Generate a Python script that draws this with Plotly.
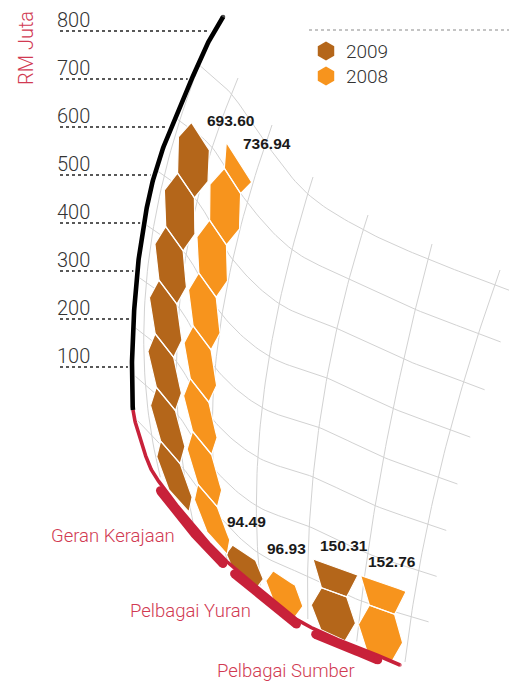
import numpy as np
import plotly.graph_objects as go

# ---------------- data ----------------
categories = ["Geran Kerajaan", "Pelbagai Yuran", "Pelbagai Sumber"]
series_names = ["2009", "2008"]
values_2009 = [693.60, 94.49, 150.31]
values_2008 = [736.94, 96.93, 152.76]
value_labels_2009 = ["693.60", "94.49", "150.31"]
value_labels_2008 = ["736.94", "96.93", "152.76"]
tick_values = [100, 200, 300, 400, 500, 600, 700, 800]
tick_labels = ["100", "200", "300", "400", "500", "600", "700", "800"]
axis_title = "RM Juta"
UNIT = 100.0  # one hexagon cell = RM 100 juta

# ---------------- style / layout geometry ----------------
W, H = 517, 681
OFF = 8  # page body margin: the figure starts 8px in from the window edge
C2009 = "#B4661A"
C2008 = "#F7941D"
RED = "#C8213A"
RED_TXT = "#D13A52"
GRID = "#D2D2D2"
TXT = "#333333"
FONT = "Liberation Sans, Arial, sans-serif"
LIGHT = "Roboto, Liberation Sans, Arial, sans-serif"

# curved value axis / category base line
BOUNDARY = [(223, 17), (213, 33), (200, 60), (187, 90), (173, 122), (160, 157), (150, 192),
            (143, 230), (138, 265), (134, 313), (132, 363), (133, 410), (140, 437),
            (150, 467), (165, 490), (183, 513), (203, 537), (222, 557), (240, 573),
            (257, 587), (293, 617), (327, 635), (360, 648), (400, 665)]
AXIS_SPLIT_Y = 410
THICK_RANGES = [(163, 226), (237, 299), (316, 380)]
CAT_LABEL_POS = [(177, 536), (253, 611), (357, 671)]

# per-category warped frames (mid line, separator angle, column width)
FRAMES = [
    dict(mid=[(198, 522), (189, 474), (184, 421), (182, 368), (185, 315), (191, 262),
              (202, 209), (217, 157), (236, 106)],
         ang=[48.0, 49.3, 50.6, 51.9, 53.2, 54.5, 55.8, 57.1, 58.4], width=57.0,
         label_off=[(19, 7), (16, 4)]),
    dict(mid=[(265, 596), (264, 564), (263, 532)], ang=[36, 33, 31], width=48.0,
         label_off=[(0, -19), (0, -17)]),
    dict(mid=[(356, 646), (358, 601), (361, 550)], ang=[25, 20, 20], width=51.0,
         label_off=[(5, -13), (5, -13)]),
]
COL_GAP = 0.03
HEX_C = 0.22   # flat edges span [HEX_C, 1-HEX_C]; side vertices at mid height

# decorative background grid (meridians: bottom, middle, top)
GRID_MERID = [
    [(162, 484), (147, 275), (206, 48)],
    [(193, 522), (180, 300), (238, 78)],
    [(227, 560), (216, 360), (272, 125)],
    [(262, 598), (263, 400), (313, 177)],
    [(308, 626), (320, 420), (368, 215)],
    [(356, 648), (385, 450), (432, 244)],
    [(405, 662), (440, 470), (500, 270)],
]
N_PAR, Q_TOP = 8, 8.3

TICK_Y800, TICK_PX = 31.0, 0.48


# ---------------- helpers ----------------
def cr_point(P, t):
    P = np.asarray(P, float)
    n = len(P)
    if t < 0:
        return P[0] + t * (P[1] - P[0])
    if t > n - 1:
        return P[-1] + (t - (n - 1)) * (P[-1] - P[-2])
    i = int(min(max(np.floor(t), 0), n - 2))
    f = t - i
    p1, p2 = P[i], P[i + 1]
    p0 = P[i - 1] if i > 0 else 2 * p1 - p2
    p3 = P[i + 2] if i + 2 < n else 2 * p2 - p1
    return 0.5 * (2 * p1 + (p2 - p0) * f + (2 * p0 - 5 * p1 + 4 * p2 - p3) * f * f
                  + (-p0 + 3 * p1 - 3 * p2 + p3) * f ** 3)


def cr_curve(P, m=16):
    n = len(P)
    ts = np.linspace(0, n - 1, (n - 1) * m + 1)
    return np.array([cr_point(P, t) for t in ts])


bnd = cr_curve(BOUNDARY, 24)


def X_of_y(y):
    return np.interp(y, bnd[:, 1], bnd[:, 0])


def inside(x, y):
    return x >= X_of_y(y) + 1.5


def frame_xy(fr, u, t):
    m = cr_point(fr["mid"], t)
    a = np.radians(np.interp(t, np.arange(len(fr["ang"])), fr["ang"]))
    return m + (u - 1.0) * fr["width"] * np.array([np.cos(a), np.sin(a)])


def clip_top(poly, tmax):
    out = []
    n = len(poly)
    for i in range(n):
        cur, nxt = poly[i], poly[(i + 1) % n]
        cin = cur[1] <= tmax + 1e-9
        nin = nxt[1] <= tmax + 1e-9
        if cin:
            out.append(cur)
        if cin != nin:
            f = (tmax - cur[1]) / (nxt[1] - cur[1])
            out.append((cur[0] + f * (nxt[0] - cur[0]), tmax))
    return out


def cell_poly(k, tmax):
    c = HEX_C
    poly = [(0, k + 0.5), (c, k), (1 - c, k), (1, k + 0.5), (1 - c, k + 1), (c, k + 1)]
    return clip_top(poly, tmax)


def poly_xy(fr, col, poly, n=6):
    xs, ys = [], []
    m = len(poly)
    for i in range(m):
        s0, t0 = poly[i]
        s1, t1 = poly[(i + 1) % m]
        for f in np.linspace(0, 1, n, endpoint=False):
            s = s0 + f * (s1 - s0)
            t = t0 + f * (t1 - t0)
            u = col + COL_GAP + s * (1 - 2 * COL_GAP)
            x, y = frame_xy(fr, u, t)
            xs.append(x)
            ys.append(y)
    xs.append(xs[0])
    ys.append(ys[0])
    return xs, ys


def merid_pt(i, q):
    P0, Pm, P1 = (np.array(p, float) for p in GRID_MERID[i])
    return P0 * (2 * q * q - 3 * q + 1) + Pm * (4 * q - 4 * q * q) + P1 * (2 * q * q - q)


fig = go.Figure()

# ---------------- background grid ----------------
gx, gy = [], []
for i in range(len(GRID_MERID)):
    pts = np.array([merid_pt(i, q) for q in np.linspace(0, 1, 60)])
    pts = [p for p in pts if inside(p[0], p[1])]
    gx += [p[0] for p in pts] + [None]
    gy += [p[1] for p in pts] + [None]
for j in range(1, N_PAR + 1):
    q = j / Q_TOP
    nodes = [merid_pt(i, q) for i in range(len(GRID_MERID))]
    pts = np.array([cr_point(nodes, p) for p in np.linspace(-1.2, 6.35, 120)])
    pts = [p for p in pts if inside(p[0], p[1])]
    gx += [p[0] for p in pts] + [None]
    gy += [p[1] for p in pts] + [None]
fig.add_trace(go.Scatter(x=gx, y=gy, mode="lines", line=dict(color=GRID, width=1),
                         hoverinfo="skip", showlegend=False))

# ---------------- hexagon bars ----------------
series_vals = [values_2009, values_2008]
series_cols = [C2009, C2008]
for si, (vals, colr) in enumerate(zip(series_vals, series_cols)):
    xs, ys = [], []
    for ci, v in enumerate(vals):
        fr = FRAMES[ci]
        tmax = v / UNIT
        for k in range(int(np.ceil(tmax))):
            px, py = poly_xy(fr, si, cell_poly(k, tmax))
            xs += px + [None]
            ys += py + [None]
    fig.add_trace(go.Scatter(x=xs, y=ys, mode="lines", fill="toself", fillcolor=colr,
                             line=dict(color="white", width=1.2), name=series_names[si],
                             hoverinfo="skip", showlegend=False))

# ---------------- value labels ----------------
annotations = []
for si, (vals, labs) in enumerate(zip(series_vals, [value_labels_2009, value_labels_2008])):
    for ci, (v, lab) in enumerate(zip(vals, labs)):
        fr = FRAMES[ci]
        x, y = frame_xy(fr, si + COL_GAP, v / UNIT)
        dx, dy = fr["label_off"][si]
        annotations.append(dict(x=x + dx, y=y + dy, text="<b>" + lab + "</b>", showarrow=False,
                                xanchor="left", yanchor="middle",
                                font=dict(family=FONT, size=15.5, color="#1a1a1a")))

# ---------------- axis curve ----------------
blk = bnd[bnd[:, 1] <= AXIS_SPLIT_Y + 0.5]
red = bnd[bnd[:, 1] >= AXIS_SPLIT_Y - 0.5]
fig.add_trace(go.Scatter(x=red[:, 0], y=red[:, 1], mode="lines", line=dict(color=RED, width=3.6),
                         hoverinfo="skip", showlegend=False))
fig.add_trace(go.Scatter(x=blk[:, 0], y=blk[:, 1], mode="lines", line=dict(color="black", width=4.6),
                         hoverinfo="skip", showlegend=False))
fig.add_trace(go.Scatter(x=[bnd[0, 0], bnd[-1, 0]], y=[bnd[0, 1], bnd[-1, 1]], mode="markers",
                         marker=dict(color=["black", RED], size=[4.6, 3.6], line=dict(width=0)),
                         hoverinfo="skip", showlegend=False))

# thick category segments
tang = np.gradient(bnd, axis=0)
tang = tang / np.linalg.norm(tang, axis=1)[:, None]
nout = np.stack([-tang[:, 1], tang[:, 0]], axis=1)
for (x0, x1) in THICK_RANGES:
    msk = (bnd[:, 0] >= x0) & (bnd[:, 0] <= x1) & (bnd[:, 1] > AXIS_SPLIT_Y)
    seg = bnd[msk] + 4.2 * nout[msk]
    fig.add_trace(go.Scatter(x=seg[:, 0], y=seg[:, 1], mode="lines", line=dict(color=RED, width=9),
                             hoverinfo="skip", showlegend=False))
    fig.add_trace(go.Scatter(x=[seg[0, 0], seg[-1, 0]], y=[seg[0, 1], seg[-1, 1]], mode="markers",
                             marker=dict(color=RED, size=8.5, line=dict(width=0)),
                             hoverinfo="skip", showlegend=False))

for (x, y), name in zip(CAT_LABEL_POS, categories):
    annotations.append(dict(x=x, y=y, text=name, showarrow=False, xanchor="right", yanchor="middle",
                            font=dict(family=LIGHT, size=18.5, color=RED_TXT, weight=300)))

# ---------------- ticks ----------------
tx, ty = [], []
for val, lab in zip(tick_values, tick_labels):
    y = TICK_Y800 + (800 - val) * TICK_PX
    tx += [60, float(X_of_y(y)) - 4, None]
    ty += [y, y, None]
    annotations.append(dict(x=55, y=y - 11.5, text=lab, showarrow=False, xanchor="left",
                            yanchor="middle", font=dict(family=LIGHT, size=20, color=TXT, weight=300)))
fig.add_trace(go.Scatter(x=tx, y=ty, mode="lines", line=dict(color="#222222", width=1.3, dash="dot"),
                         hoverinfo="skip", showlegend=False))
annotations.append(dict(x=26, y=48, text=axis_title, textangle=-90, showarrow=False,
                        xanchor="center", yanchor="middle",
                        font=dict(family=LIGHT, size=20, color=RED_TXT, weight=300)))

# ---------------- legend ----------------
fig.add_trace(go.Scatter(x=[309, 517], y=[30, 30], mode="lines",
                         line=dict(color="#8a8a8a", width=1.2, dash="dot"),
                         hoverinfo="skip", showlegend=False))
leg_y = [51, 76]
fig.add_trace(go.Scatter(x=[326, 326], y=leg_y, mode="markers",
                         marker=dict(symbol="hexagon", size=19, color=series_cols, line=dict(width=0)),
                         hoverinfo="skip", showlegend=False))
for yy, name in zip(leg_y, series_names):
    annotations.append(dict(x=344, y=yy, text=name, showarrow=False, xanchor="left", yanchor="middle",
                            font=dict(family=LIGHT, size=19, color=TXT, weight=300)))

fig.update_layout(
    width=W - OFF, height=H - OFF, margin=dict(l=0, r=0, t=0, b=0, pad=0),
    paper_bgcolor="white", plot_bgcolor="white",
    xaxis=dict(range=[OFF, W], visible=False, fixedrange=True),
    yaxis=dict(range=[H, OFF], visible=False, fixedrange=True),
    annotations=annotations, showlegend=False,
)
fig.write_html("out.html")
